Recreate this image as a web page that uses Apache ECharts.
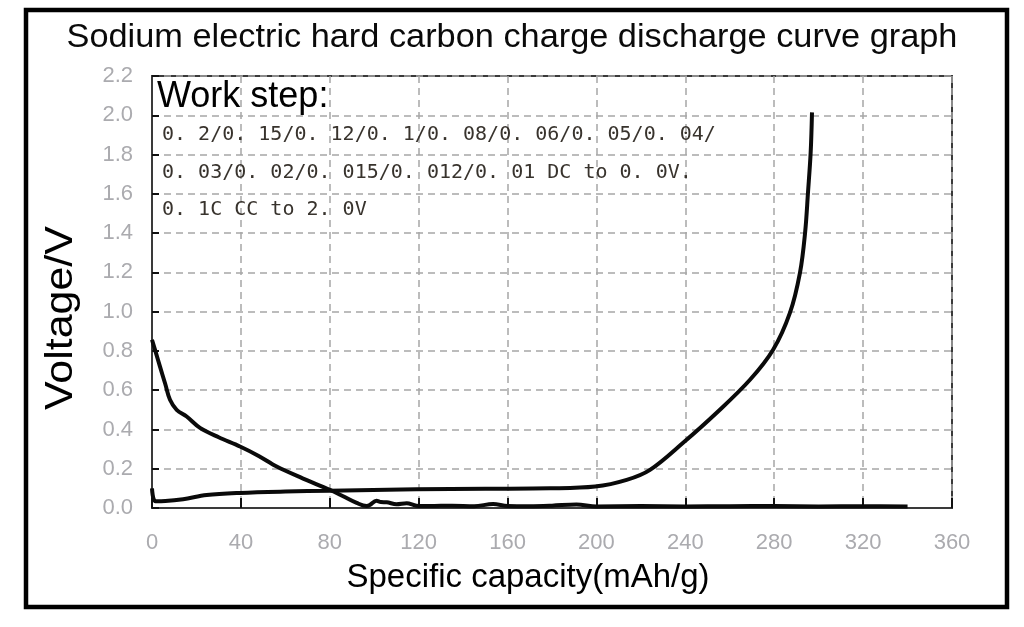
<!DOCTYPE html>
<html>
<head>
<meta charset="utf-8">
<script src="https://cdn.jsdelivr.net/npm/echarts@6/dist/echarts.min.js"></script>
<style>
html,body{margin:0;padding:0;background:#fff;}
#chart{width:1024px;height:627px;}
</style>
</head>
<body>
<div id="chart"></div>
<script>
// ---- data ----
const titleText = 'Sodium electric hard carbon charge discharge curve graph';
const xAxisTitle = 'Specific capacity(mAh/g)';
const yAxisTitle = 'Voltage/V';
const xMin = 0, xMax = 360, xStep = 40;
const yMin = 0, yMax = 2.2, yStep = 0.2;

const dischargeCap = [0, 1.5, 3.6, 6, 8.1, 11.1, 15.6, 21.6, 30, 39.6, 48, 56.1, 68, 80.1, 86, 92.1, 96.6, 98, 101, 103, 105.6, 110, 114.6, 119, 125, 135, 145, 153.5, 160, 170, 180, 191, 200, 220, 240, 260, 280, 300, 320, 340];
const dischargeV   = [0.857, 0.80, 0.72, 0.63, 0.551, 0.50, 0.466, 0.408, 0.36, 0.313, 0.265, 0.211, 0.15, 0.092, 0.06, 0.026, 0.01, 0.015, 0.037, 0.03, 0.029, 0.019, 0.024, 0.012, 0.01, 0.012, 0.009, 0.02, 0.01, 0.009, 0.012, 0.018, 0.008, 0.01, 0.008, 0.009, 0.01, 0.008, 0.009, 0.008];

const chargeCap = [0, 1.5, 6, 14, 24.6, 39.6, 60, 80, 119, 150, 179.1, 199.4, 213.6, 224.1, 239, 254.1, 269.1, 279.5, 287.1, 291.6, 293.9, 295.2, 296.4, 297];
const chargeV   = [0.10, 0.035, 0.036, 0.045, 0.066, 0.077, 0.084, 0.088, 0.095, 0.098, 0.1, 0.109, 0.143, 0.194, 0.332, 0.485, 0.653, 0.806, 0.995, 1.199, 1.403, 1.607, 1.811, 2.015];

const noteTitle = 'Work step:';
const noteLines = [
  '0. 2/0. 15/0. 12/0. 1/0. 08/0. 06/0. 05/0. 04/',
  '0. 03/0. 02/0. 015/0. 012/0. 01 DC to 0. 0V.',
  '0. 1C CC to 2. 0V'
];

// ---- build ----
const zip = (a, b) => a.map((v, i) => [v, b[i]]);
const chart = echarts.init(document.getElementById('chart'), null, {renderer: 'canvas'});

const sans = 'Liberation Sans, Arial, sans-serif';
const labelStyle = {color: '#ababaf', fontSize: 22, fontFamily: sans};
const gridDash = {type: [7, 5], color: '#a6a6a6', width: 1.5};

const option = {
  backgroundColor: '#ffffff',
  animation: false,
  grid: {left: 152, right: 72, top: 76, bottom: 119, show: true, borderColor: '#3a3a3a', borderWidth: 2, backgroundColor: 'transparent'},
  xAxis: {
    type: 'value', min: xMin, max: xMax, interval: xStep,
    axisLine: {show: true, lineStyle: {color: '#3a3a3a', width: 2}},
    axisTick: {show: true, inside: true, length: 10, lineStyle: {color: '#111', width: 2}},
    axisLabel: Object.assign({margin: 24}, labelStyle),
    splitLine: {show: true, lineStyle: gridDash}
  },
  yAxis: {
    type: 'value', min: yMin, max: yMax, interval: yStep,
    axisLine: {show: true, lineStyle: {color: '#3a3a3a', width: 2}},
    axisTick: {show: true, inside: true, length: 7, lineStyle: {color: '#111', width: 2}},
    axisLabel: Object.assign({margin: 19, formatter: v => v.toFixed(1)}, labelStyle),
    splitLine: {show: true, lineStyle: gridDash}
  },
  series: [
    {type: 'line', name: 'discharge', data: zip(dischargeCap, dischargeV), showSymbol: false, smooth: 0.35,
     lineStyle: {color: '#0a0a0a', width: 4}, z: 5},
    {type: 'line', name: 'charge', data: zip(chargeCap, chargeV), showSymbol: false, smooth: 0.35,
     lineStyle: {color: '#0a0a0a', width: 4}, z: 5}
  ],
  graphic: [
    {type: 'rect', shape: {x: 26, y: 10, width: 981, height: 597}, style: {fill: 'none', stroke: '#000', lineWidth: 4.5}, z: 10},
    {type: 'text', x: 512, y: 38, scaleX: 1.04,
     style: {text: titleText, fontSize: 33, fill: '#0a0a0a', align: 'center', verticalAlign: 'middle', fontFamily: sans}, z: 10},
    {type: 'text', x: 62, y: 318, rotation: Math.PI / 2, scaleX: 1.13,
     style: {text: yAxisTitle, fontSize: 38, fill: '#000', align: 'center', verticalAlign: 'middle', fontFamily: sans}, z: 10},
    {type: 'text', x: 528, y: 578,
     style: {text: xAxisTitle, fontSize: 33, fill: '#000', align: 'center', verticalAlign: 'middle', fontFamily: sans}, z: 10},
    {type: 'text', x: 157, y: 97,
     style: {text: noteTitle, fontSize: 36, fill: '#000', align: 'left', verticalAlign: 'middle', fontFamily: sans}, z: 10},
    {type: 'text', x: 162, y: 135,
     style: {text: noteLines[0], fontSize: 20, fill: '#38332d', align: 'left', verticalAlign: 'middle', fontFamily: 'DejaVu Sans Mono, monospace'}, z: 10},
    {type: 'text', x: 162, y: 173,
     style: {text: noteLines[1], fontSize: 20, fill: '#38332d', align: 'left', verticalAlign: 'middle', fontFamily: 'DejaVu Sans Mono, monospace'}, z: 10},
    {type: 'text', x: 162, y: 210,
     style: {text: noteLines[2], fontSize: 20, fill: '#38332d', align: 'left', verticalAlign: 'middle', fontFamily: 'DejaVu Sans Mono, monospace'}, z: 10}
  ]
};
chart.setOption(option);
</script>
</body>
</html>
